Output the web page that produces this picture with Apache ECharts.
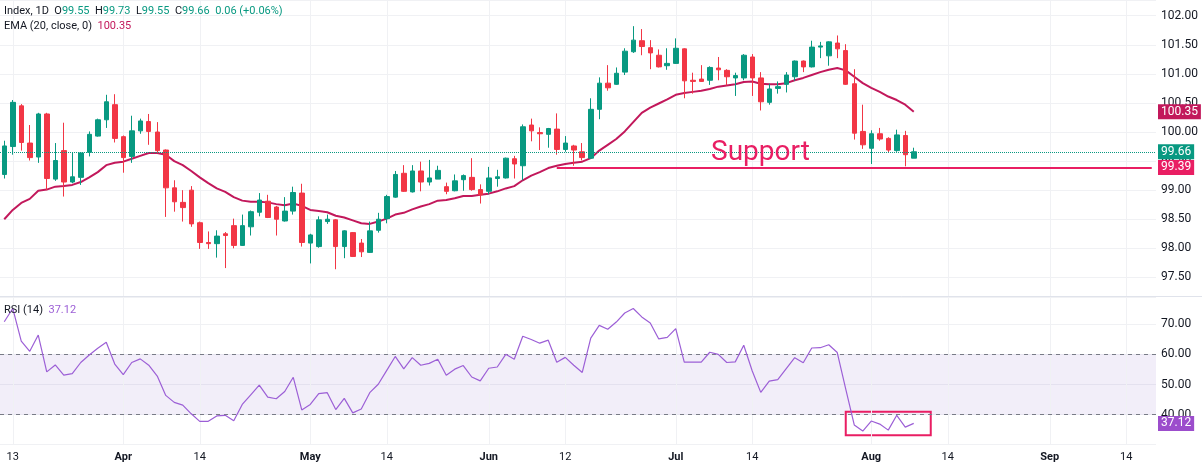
<!DOCTYPE html>
<html><head><meta charset="utf-8">
<script src="https://cdn.jsdelivr.net/npm/echarts@6/dist/echarts.min.js"></script>
<style>html,body{margin:0;padding:0;background:#fff}#c{width:1202px;height:467px}</style>
</head><body><div id="c"></div>
<script>
// ---- data ----
const startDate = '2026-03-12';
const barCount = 136; // trading days on the axis (incl. empty future)
const open  = [99.27,99.75,100.45,99.81,99.57,100.31,99.19,99.68,99.14,99.22,99.65,99.93,100.21,100.47,99.92,99.58,100.02,100.18,100.00,99.69,99.04,98.79,99.00,98.44,98.10,98.08,98.25,98.39,98.05,98.37,98.62,98.81,98.71,98.47,98.64,98.95,98.09,98.03,98.46,98.49,98.03,98.27,98.09,97.93,98.31,98.51,98.88,99.29,98.97,99.33,99.14,99.19,99.06,98.99,99.18,99.22,99.01,98.98,99.20,99.21,99.54,99.42,100.12,99.99,99.96,100.05,99.70,99.76,99.66,99.55,100.39,100.84,100.82,101.03,101.38,101.57,101.45,101.32,101.14,101.18,101.43,100.89,100.91,100.89,101.10,101.06,100.93,100.93,101.29,100.93,100.51,100.75,100.82,100.95,101.22,101.12,101.46,101.31,101.53,101.40,100.83,100.01,99.72,99.97,99.89,99.68,99.94,99.55];
const high  = [99.85,100.55,100.48,100.12,100.33,100.33,99.81,100.16,99.64,99.65,100.01,100.23,100.64,100.65,99.94,100.28,100.23,100.31,100.17,99.70,99.17,99.00,99.07,98.46,98.29,98.31,98.28,98.51,98.58,98.65,98.95,98.92,98.73,98.88,99.06,99.11,98.25,98.55,98.58,98.50,98.31,98.28,98.16,98.46,98.61,98.92,99.33,99.43,99.43,99.49,99.52,99.42,99.13,99.27,99.27,99.55,99.10,99.40,99.35,99.56,99.59,100.13,100.23,100.08,100.07,100.32,99.93,99.78,99.81,100.58,100.94,101.15,101.11,101.44,101.82,101.77,101.58,101.42,101.44,101.61,101.44,101.02,101.15,101.13,101.29,101.08,101.02,101.34,101.34,101.03,100.83,100.87,101.03,101.23,101.23,101.57,101.55,101.56,101.66,101.51,101.08,100.47,100.03,100.07,99.91,100.04,100.02,99.73];
const low   = [99.20,99.61,99.68,99.51,99.47,99.00,99.16,98.89,99.12,99.09,99.58,99.92,100.07,99.82,99.30,99.47,99.97,99.78,99.64,98.54,98.63,98.46,98.37,97.99,97.99,97.84,97.66,98.00,98.04,98.22,98.55,98.52,98.22,98.46,98.58,98.03,97.74,98.01,98.42,97.64,97.83,97.85,97.85,97.92,98.27,98.43,98.87,98.97,98.96,98.98,99.08,99.19,98.93,98.98,98.99,98.99,98.77,98.93,99.06,99.20,99.20,99.17,99.84,99.69,99.73,99.61,99.66,99.42,99.51,99.54,100.22,100.71,100.81,100.98,101.36,101.32,101.08,101.11,101.07,101.17,100.58,100.66,100.86,100.81,100.89,100.80,100.62,100.89,100.62,100.37,100.47,100.66,100.68,100.88,101.03,101.11,101.27,101.14,101.27,100.81,99.87,99.71,99.45,99.85,99.65,99.66,99.41,99.55];
const close = [99.76,100.51,99.82,99.56,100.31,99.20,99.51,99.14,99.23,99.64,99.96,100.21,100.52,99.89,99.56,100.02,100.19,100.01,99.68,99.04,98.80,98.70,98.42,98.10,98.08,98.21,98.22,98.05,98.39,98.63,98.83,98.53,98.50,98.64,98.96,98.10,98.23,98.49,98.50,98.03,98.30,97.86,97.94,98.30,98.50,98.89,99.27,98.98,99.33,99.14,99.21,99.34,98.98,99.16,99.25,99.01,98.92,99.21,99.23,99.55,99.45,100.09,100.02,99.97,100.06,99.70,99.81,99.69,99.56,100.39,100.84,100.76,101.01,101.39,101.58,101.47,101.36,101.12,101.18,101.44,100.88,100.87,100.87,101.11,101.07,100.95,100.97,101.32,100.93,100.52,100.74,100.78,100.98,101.22,101.12,101.46,101.48,101.55,101.43,100.82,99.98,99.78,99.97,99.88,99.69,99.95,99.61,99.66];
const ema20 = [98.50,98.66,98.78,98.85,98.99,99.01,99.06,99.07,99.09,99.14,99.22,99.31,99.43,99.47,99.49,99.54,99.59,99.64,99.64,99.61,99.50,99.43,99.33,99.22,99.12,99.03,98.97,98.88,98.82,98.80,98.80,98.79,98.76,98.74,98.77,98.73,98.66,98.64,98.62,98.56,98.53,98.48,98.43,98.42,98.46,98.51,98.58,98.61,98.67,98.72,98.76,98.82,98.83,98.86,98.90,98.90,98.92,98.94,98.98,99.03,99.07,99.17,99.25,99.31,99.38,99.42,99.45,99.47,99.49,99.55,99.68,99.78,99.88,100.01,100.17,100.33,100.42,100.49,100.56,100.64,100.67,100.69,100.71,100.74,100.78,100.80,100.82,100.86,100.87,100.83,100.82,100.82,100.84,100.89,100.93,100.98,101.03,101.07,101.10,101.06,100.95,100.84,100.76,100.69,100.61,100.55,100.47,100.35];
const rsi14 = [70.8,75.2,64.4,61.0,66.4,54.2,56.5,53.1,53.6,57.3,59.8,62.0,64.0,56.8,53.3,57.3,58.5,56.4,52.8,46.4,44.1,43.2,40.3,37.8,37.8,39.6,39.8,38.0,43.4,46.6,49.8,45.8,45.3,47.7,52.4,41.6,43.4,47.0,47.3,41.7,45.4,40.6,41.9,47.3,50.1,54.7,59.3,55.2,58.9,56.4,57.0,58.4,53.1,55.1,56.3,52.5,51.2,55.4,55.8,60.0,58.4,66.0,64.9,63.7,64.7,57.4,59.0,56.4,54.0,65.4,69.6,68.3,70.7,73.7,75.2,72.4,70.4,65.1,65.6,68.5,57.4,57.4,57.4,60.7,60.0,57.3,57.5,63.0,54.5,47.4,51.1,51.6,55.3,58.9,57.2,62.1,62.2,63.2,60.6,48.5,36.6,34.6,37.9,36.9,34.9,39.8,35.9,37.12];
const tickDates  = ['2026-03-13','2026-04-01','2026-04-14','2026-05-01','2026-05-14','2026-06-01','2026-06-12','2026-07-01','2026-07-14','2026-08-03','2026-08-14','2026-09-01','2026-09-14'];
const tickLabels = ['13','Apr','14','May','14','Jun','12','Jul','14','Aug','14','Sep','14'];
const monthLabels = ['Apr','May','Jun','Jul','Aug','Sep'];
const supportLevel = 99.39, supportFrom = '2026-06-11';
const lastClose = 99.66, lastEma = 100.35, lastRsi = 37.12, change = '0.06 (+0.06%)';
const rsiUpper = 60, rsiLower = 40;
const boxFrom = '2026-07-29', boxTo = '2026-08-12', boxTop = 41.0, boxBottom = 33.2;

// ---- categories: weekdays ----
const categories = [];
{
  const p = startDate.split('-').map(Number);
  let t = Date.UTC(p[0], p[1]-1, p[2]);
  while (categories.length < barCount) {
    const d = new Date(t);
    const wd = d.getUTCDay();
    if (wd !== 0 && wd !== 6) categories.push(d.toISOString().slice(0,10));
    t += 86400000;
  }
}
const tickIdx = tickDates.map(d => categories.indexOf(d));
const candles = open.map((o,i) => [o, close[i], low[i], high[i]]);

const UP = '#089981', DOWN = '#f23645', EMA_C = '#c2185b', SUP = '#e91e63', RSI_C = '#9c5fd6', RSI_BOX = '#9c4dcc';
const FONT = 'Roboto, "Noto Sans", sans-serif';
const gridLineColor = '#f0f1f4';
const vGrid = tickDates.map(d => ({ xAxis: d, lineStyle: { color: gridLineColor, width: 1, type: 'solid' }, label: { show: false } }));
const HIDDEN = { color: 'rgba(0,0,0,0)', width: 0 };

function tag(value, bg, text, lineStyle) {
  return { yAxis: value, lineStyle: lineStyle || HIDDEN,
    label: { show: true, position: 'end', formatter: text, backgroundColor: bg, color: '#fff',
      padding: [2, 3, 1, 3], fontSize: 12, fontFamily: FONT, distance: 2 } };
}

const chart = echarts.init(document.getElementById('c'), null, { renderer: 'canvas' });
const left = -6.4, right = 46;
chart.setOption({
  animation: false,
  backgroundColor: '#ffffff',
  textStyle: { fontFamily: FONT },
  grid: [
    { left: left, right: right, top: 0, height: 296 },
    { left: left, right: right, top: 297, height: 147 }
  ],
  xAxis: [
    { type: 'category', gridIndex: 0, data: categories, boundaryGap: true,
      axisLine: { show: false }, axisTick: { show: false }, axisLabel: { show: false }, splitLine: { show: false } },
    { type: 'category', gridIndex: 1, data: categories, boundaryGap: true,
      axisLine: { show: false }, axisTick: { show: false }, splitLine: { show: false },
      axisLabel: { show: true, interval: (i) => tickIdx.includes(i), margin: 8, fontSize: 11, color: '#131722', fontFamily: FONT,
        formatter: (v, i) => { const k = tickIdx.indexOf(i); if (k < 0) return ''; const s = tickLabels[k]; return monthLabels.includes(s) ? '{b|' + s + '}' : s; },
        rich: { b: { fontWeight: 'bold', fontSize: 11, color: '#131722', fontFamily: FONT } } } }
  ],
  yAxis: [
    { type: 'value', gridIndex: 0, position: 'right', min: 97.18, max: 102.27, splitNumber: 10, minInterval: 0.5, maxInterval: 0.5,
      axisLine: { show: false }, axisTick: { show: false },
      axisLabel: { showMinLabel: false, showMaxLabel: false, formatter: v => v.toFixed(2), color: '#131722', fontSize: 12, margin: 5, fontFamily: FONT },
      splitLine: { lineStyle: { color: gridLineColor } } },
    { type: 'value', gridIndex: 1, position: 'right', min: 30.3, max: 79.0, splitNumber: 5, minInterval: 10, maxInterval: 10,
      axisLine: { show: false }, axisTick: { show: false },
      axisLabel: { showMinLabel: false, showMaxLabel: false, formatter: v => v.toFixed(2), color: '#131722', fontSize: 12, margin: 5, fontFamily: FONT },
      splitLine: { lineStyle: { color: gridLineColor } } }
  ],
  series: [
    { name: 'Index', type: 'candlestick', xAxisIndex: 0, yAxisIndex: 0, data: candles, barWidth: 5, z: 3,
      itemStyle: { color: UP, color0: DOWN, borderColor: UP, borderColor0: DOWN, borderWidth: 1 },
      markLine: { silent: true, symbol: ['none', 'none'], z: 4, animation: false,
        data: [
          tag(lastClose, UP, lastClose.toFixed(2), { color: UP, type: 'dotted', width: 1 }),
          [ { coord: [supportFrom, supportLevel], lineStyle: { color: SUP, width: 2, type: 'solid' }, label: { show: false } },
            { coord: [categories[categories.length - 1], supportLevel] } ],
          tag(supportLevel, SUP, supportLevel.toFixed(2)),
          tag(lastEma, EMA_C, lastEma.toFixed(2))
        ] } },
    { name: 'EMA', type: 'line', xAxisIndex: 0, yAxisIndex: 0, data: ema20, symbol: 'none', z: 2,
      lineStyle: { color: EMA_C, width: 2 }, itemStyle: { color: EMA_C },
      markLine: { silent: true, symbol: ['none', 'none'], z: 1, animation: false, data: vGrid } },
    { name: 'RSI', type: 'line', xAxisIndex: 1, yAxisIndex: 1, data: rsi14, symbol: 'none', z: 3,
      lineStyle: { color: RSI_C, width: 1.2 }, itemStyle: { color: RSI_C },
      markArea: { silent: true, z: 1,
        data: [
          [ { yAxis: rsiLower, itemStyle: { color: 'rgba(126,87,194,0.10)' } }, { yAxis: rsiUpper } ],
          [ { coord: [boxFrom, boxTop], itemStyle: { color: 'rgba(0,0,0,0)', borderColor: SUP, borderWidth: 2 } }, { coord: [boxTo, boxBottom] } ]
        ] },
      markLine: { silent: true, symbol: ['none', 'none'], z: 2, animation: false,
        data: vGrid.concat([
          { yAxis: rsiUpper, lineStyle: { color: '#787b86', type: [4, 4], width: 1 }, label: { show: false } },
          { yAxis: rsiLower, lineStyle: { color: '#787b86', type: [4, 4], width: 1 }, label: { show: false } },
          tag(lastRsi, RSI_BOX, lastRsi.toFixed(2))
        ]) } }
  ],
  graphic: [
    { type: 'line', silent: true, shape: { x1: 0, y1: 296.5, x2: 1202, y2: 296.5 }, style: { stroke: '#e0e3eb', lineWidth: 1 }, z: 10 },
    { type: 'text', x: 4, y: 11, z: 20, style: {
      text: '{d|Index, 1D  O}{g|' + open[open.length-1].toFixed(2) + '}{d|  H}{g|' + high[high.length-1].toFixed(2) + '}{d|  L}{g|' + low[low.length-1].toFixed(2) + '}{d|  C}{g|' + close[close.length-1].toFixed(2) + '}{g|  ' + change + '}',
      verticalAlign: 'middle', font: '11px ' + FONT,
      rich: { d: { fill: '#131722', fontSize: 11, fontFamily: FONT }, g: { fill: UP, fontSize: 11, fontFamily: FONT } } } },
    { type: 'text', x: 4, y: 26, z: 20, style: {
      text: '{d|EMA (20, close, 0)  }{p|' + lastEma.toFixed(2) + '}', verticalAlign: 'middle', font: '11px ' + FONT,
      rich: { d: { fill: '#131722', fontSize: 11, fontFamily: FONT }, p: { fill: EMA_C, fontSize: 11, fontFamily: FONT } } } },
    { type: 'text', x: 4, y: 310, z: 20, style: {
      text: '{d|RSI (14)  }{p|' + lastRsi.toFixed(2) + '}', verticalAlign: 'middle', font: '11px ' + FONT,
      rich: { d: { fill: '#131722', fontSize: 11, fontFamily: FONT }, p: { fill: RSI_C, fontSize: 11, fontFamily: FONT } } } },
    { type: 'text', x: 711, y: 153, z: 20, style: { text: 'Support', fill: SUP, font: '28px ' + FONT, verticalAlign: 'middle' } }
  ]
});
</script></body></html>
